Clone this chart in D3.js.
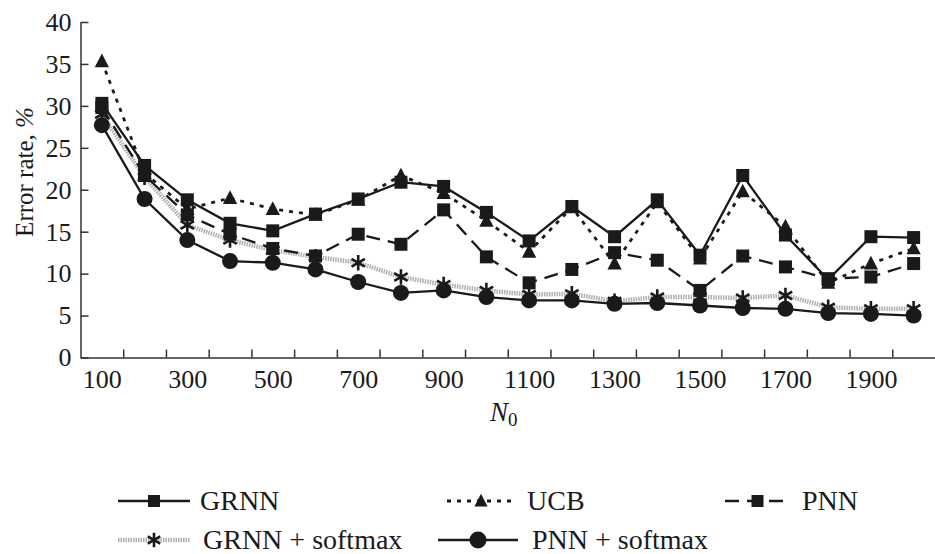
<!DOCTYPE html>
<html>
<head>
<meta charset="utf-8">
<script src="https://cdnjs.cloudflare.com/ajax/libs/d3/7.8.5/d3.min.js"></script>
<style>
    body { margin: 0; background: #fff; }
    svg { display: block; font-family: "Liberation Serif", "Times New Roman", serif; }
</style>
</head>
<body>
<svg id="chart" width="935" height="554"></svg>
<script>
//Data
var n0 = [100, 200, 300, 400, 500, 600, 700, 800, 900, 1000,
          1100, 1200, 1300, 1400, 1500, 1600, 1700, 1800, 1900, 2000];
var xLabels = [100, 300, 500, 700, 900, 1100, 1300, 1500, 1700, 1900];
var yTicks = [0, 5, 10, 15, 20, 25, 30, 35, 40];

var grnn   = [30.3, 22.9, 18.8, 16.0, 15.1, 17.1, 18.9, 20.9, 20.4, 17.3,
              13.9, 18.0, 14.4, 18.8, 12.2, 21.7, 14.6, 9.3, 14.4, 14.3];
var ucb    = [35.3, 22.0, 17.7, 19.0, 17.7, 17.0, 18.8, 21.7, 19.6, 16.3,
              12.6, 17.9, 11.2, 18.5, 11.8, 19.8, 15.6, 8.9, 11.2, 13.0];
var pnn    = [29.8, 21.7, 17.0, 14.7, 13.0, 12.1, 14.7, 13.5, 17.6, 12.0,
              8.9, 10.5, 12.5, 11.6, 8.0, 12.1, 10.8, 9.4, 9.6, 11.2];
var grnnSm = [29.0, 21.5, 15.8, 14.0, 12.8, 12.0, 11.3, 9.6, 8.7, 8.0,
              7.5, 7.6, 6.7, 7.2, 7.2, 7.1, 7.4, 6.0, 5.8, 5.8];
var pnnSm  = [27.7, 18.9, 14.0, 11.5, 11.3, 10.5, 9.0, 7.7, 8.0, 7.2,
              6.8, 6.8, 6.4, 6.5, 6.2, 5.9, 5.8, 5.3, 5.2, 5.0];

var series = [
    {name: "GRNN + softmax", values: grnnSm, symbol: "asterisk", dash: "1.5,1", color: "#b0b0b0", width: 4.5},
    {name: "PNN", values: pnn, symbol: "square", dash: "14,8", color: "#1a1a1a", width: 2.3},
    {name: "UCB", values: ucb, symbol: "triangle", dash: "4,6", color: "#1a1a1a", width: 2.8},
    {name: "GRNN", values: grnn, symbol: "square", dash: null, color: "#1a1a1a", width: 2.3},
    {name: "PNN + softmax", values: pnnSm, symbol: "circle", dash: null, color: "#1a1a1a", width: 2.3}
];

var svg = d3.select("#chart");
var plotLeft = 80.5, plotRight = 935, plotTop = 22, plotBottom = 357.5;

var x = d3.scalePoint()
    .domain(n0)
    .range([plotLeft, plotRight])
    .padding(0.5);

//band edges, for the tick marks between the points
var xEdge = d3.scaleLinear()
    .domain([0, n0.length])
    .range([plotLeft, plotRight]);

var y = d3.scaleLinear()
    .domain([0, 40])
    .range([plotBottom, plotTop]);

function drawMarker(g, type, size) {
    if (type === "square") {
        g.append("rect")
            .attr("x", -size / 2).attr("y", -size / 2)
            .attr("width", size).attr("height", size)
            .attr("fill", "#1a1a1a");
    } else if (type === "triangle") {
        g.append("path")
            .attr("d", "M0," + (-size * 0.6) + "L" + (size * 0.55) + "," + (size * 0.45) + "L" + (-size * 0.55) + "," + (size * 0.45) + "Z")
            .attr("fill", "#1a1a1a");
    } else if (type === "circle") {
        g.append("circle")
            .attr("r", size / 2)
            .attr("fill", "#1a1a1a");
    } else if (type === "asterisk") {
        g.append("path")
            .attr("d", d3.symbol().type(d3.symbolAsterisk).size(size * size)())
            .attr("fill", "none")
            .attr("stroke", "#1a1a1a")
            .attr("stroke-width", 2.6);
    }
}

//Axes
var yAxis = svg.append("g")
    .attr("transform", "translate(" + plotLeft + ",0)")
    .call(d3.axisLeft(y).tickValues(yTicks).tickSize(-8).tickPadding(9).tickSizeOuter(0));

var xTicks = svg.append("g")
    .attr("transform", "translate(0," + plotBottom + ")")
    .call(d3.axisBottom(xEdge).tickValues(d3.range(1, n0.length)).tickSize(-8).tickFormat("").tickSizeOuter(0));

var xAxis = svg.append("g")
    .attr("transform", "translate(0," + plotBottom + ")")
    .call(d3.axisBottom(x).tickValues(xLabels).tickSize(0).tickPadding(12));
xAxis.select(".domain").remove();

svg.selectAll(".tick text")
    .attr("font-family", "Liberation Serif, Times New Roman, serif")
    .attr("font-size", 26)
    .attr("fill", "#1a1a1a");
svg.selectAll(".domain, .tick line")
    .attr("stroke", "#333")
    .attr("stroke-width", 1.5);

//Axis titles
var yTitle = svg.append("text")
    .attr("transform", "translate(33,172) rotate(-90)")
    .attr("text-anchor", "middle")
    .attr("font-size", 25)
    .attr("fill", "#1a1a1a");
yTitle.append("tspan").text("Error rate, ");
yTitle.append("tspan").attr("font-style", "italic").text("%");

var xTitle = svg.append("text")
    .attr("x", 490)
    .attr("y", 421)
    .attr("font-size", 27)
    .attr("fill", "#1a1a1a");
xTitle.append("tspan").attr("font-style", "italic").text("N");
xTitle.append("tspan").attr("dy", 5).attr("font-size", 19).text("0");

//Lines and markers
var line = d3.line()
    .x(function(d, i) { return x(n0[i]); })
    .y(function(d) { return y(d); });

series.forEach(function(s) {
    svg.append("path")
        .datum(s.values)
        .attr("d", line)
        .attr("fill", "none")
        .attr("stroke", s.color)
        .attr("stroke-width", s.width)
        .attr("stroke-dasharray", s.dash);
});

series.forEach(function(s) {
    var size = s.symbol === "circle" ? 16 : 13;
    svg.append("g").selectAll("g")
        .data(s.values)
        .enter()
        .append("g")
        .attr("transform", function(d, i) {
            return "translate(" + x(n0[i]) + "," + y(d) + ")";
        })
        .each(function() { drawMarker(d3.select(this), s.symbol, size); });
});

//Legend
var legend = [
    {name: "GRNN", s: series[3], x1: 118, x2: 190, tx: 200, y: 501},
    {name: "UCB", s: series[2], x1: 447, x2: 515, tx: 527, y: 501},
    {name: "PNN", s: series[1], x1: 725, x2: 790, tx: 802, y: 501},
    {name: "GRNN + softmax", s: series[0], x1: 118, x2: 190, tx: 203, y: 540},
    {name: "PNN + softmax", s: series[4], x1: 438, x2: 518, tx: 532, y: 540}
];

legend.forEach(function(l) {
    var g = svg.append("g");
    g.append("line")
        .attr("x1", l.x1).attr("x2", l.x2)
        .attr("y1", l.y).attr("y2", l.y)
        .attr("stroke", l.s.color)
        .attr("stroke-width", l.s.width)
        .attr("stroke-dasharray", l.s.dash);
    var m = g.append("g")
        .attr("transform", "translate(" + ((l.x1 + l.x2) / 2) + "," + l.y + ")");
    drawMarker(m, l.s.symbol, l.s.symbol === "circle" ? 17 : 12);
    g.append("text")
        .attr("x", l.tx)
        .attr("y", l.y + 9)
        .attr("font-size", 28)
        .attr("fill", "#1a1a1a")
        .text(l.name);
});
</script>
</body>
</html>
